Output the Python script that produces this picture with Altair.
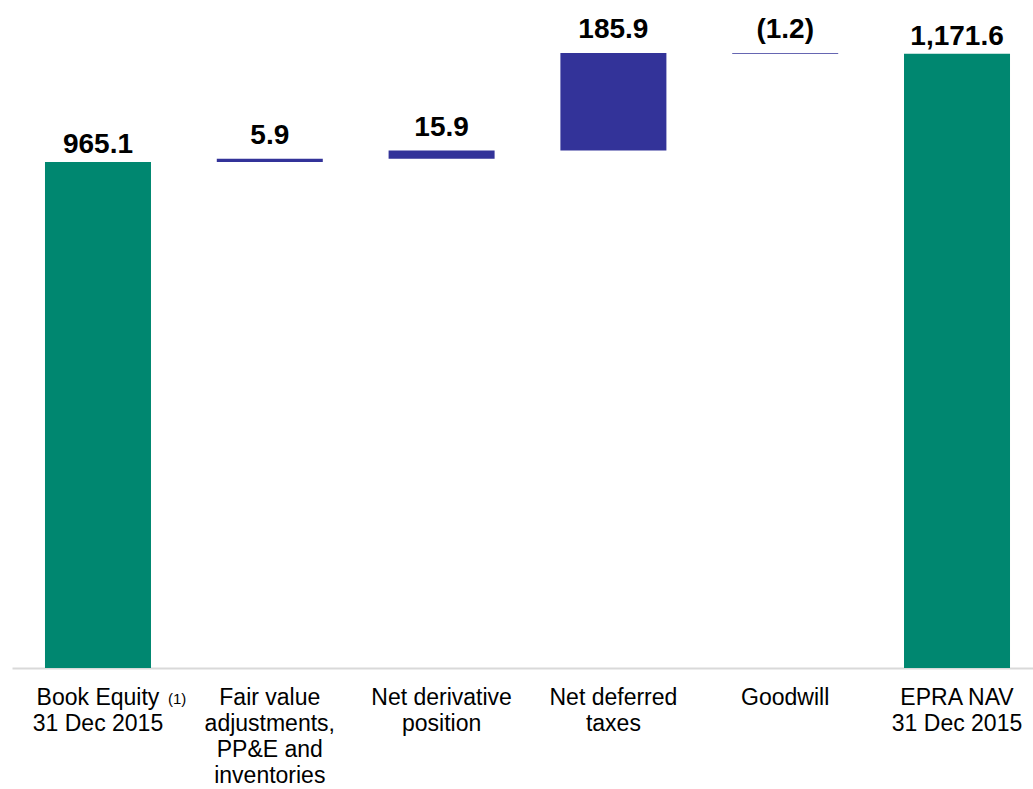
import altair as alt
import pandas as pd

categories = [
    "Book Equity|31 Dec 2015",
    "Fair value|adjustments,|PP&E and|inventories",
    "Net derivative|position",
    "Net deferred|taxes",
    "Goodwill",
    "EPRA NAV|31 Dec 2015",
]
values = [965.1, 5.9, 15.9, 185.9, -1.2, 1171.6]
kinds = ["total", "delta", "delta", "delta", "delta", "total"]
value_labels = ["965.1", "5.9", "15.9", "185.9", "(1.2)", "1,171.6"]
footnote = "(1)"

rows = []
running = 0.0
for cat, v, k, lab in zip(categories, values, kinds, value_labels):
    if k == "total":
        start, end = 0.0, v
        running = v
    else:
        start, end = running, running + v
        running = end
    rows.append({"cat": cat, "start": start, "end": end, "top": max(start, end),
                 "kind": k, "label": lab})
df = pd.DataFrame(rows)

H = 668
xscale = alt.Scale(domain=categories, range=[0, 1031], paddingInner=0.383, paddingOuter=0.192)
yscale = alt.Scale(domain=[0, 1274], nice=False, zero=True)

base = alt.Chart(df)

bars = base.mark_bar().encode(
    x=alt.X("cat:N", scale=xscale, sort=categories,
            axis=alt.Axis(title=None, labelAngle=0, ticks=False, domainColor="#d9d9d9",
                          domainWidth=2, labelFont="Liberation Sans", labelFontSize=23,
                          labelColor="#000000", labelPadding=18, labelLineHeight=26,
                          labelExpr="split(datum.label, '|')", labelLimit=300)),
    y=alt.Y("start:Q", scale=yscale, axis=None),
    y2="end:Q",
    color=alt.Color("kind:N", scale=alt.Scale(domain=["total", "delta"],
                                              range=["#008770", "#333399"]), legend=None),
)

def value_text(kind, offset):
    return base.transform_filter(alt.datum.kind == kind).mark_text(
        font="Liberation Sans", fontSize=28, fontWeight="bold",
        baseline="alphabetic", dy=offset, color="#000000").encode(
        x=alt.X("cat:N", scale=xscale, sort=categories),
        y=alt.Y("top:Q", scale=yscale),
        text="label:N",
    )

labels_total = value_text("total", -9)
labels_delta = value_text("delta", -15)

note_df = pd.DataFrame({"cat": [categories[0]], "note": [footnote]})
note = alt.Chart(note_df).mark_text(font="Liberation Sans", fontSize=15, align="left",
                                    baseline="alphabetic", dx=70, color="#000000").encode(
    x=alt.X("cat:N", scale=xscale, sort=categories),
    y=alt.value(704),
    text="note:N",
)

chart = alt.layer(bars, labels_total, labels_delta, note).properties(
    width=1021, height=H,
    padding={"left": 12, "right": 0, "top": 0, "bottom": 121},
    autosize=alt.AutoSizeParams(type="none"),
).configure_view(stroke=None)

chart.save("out.html", embed_options={"renderer": "svg", "actions": False})
